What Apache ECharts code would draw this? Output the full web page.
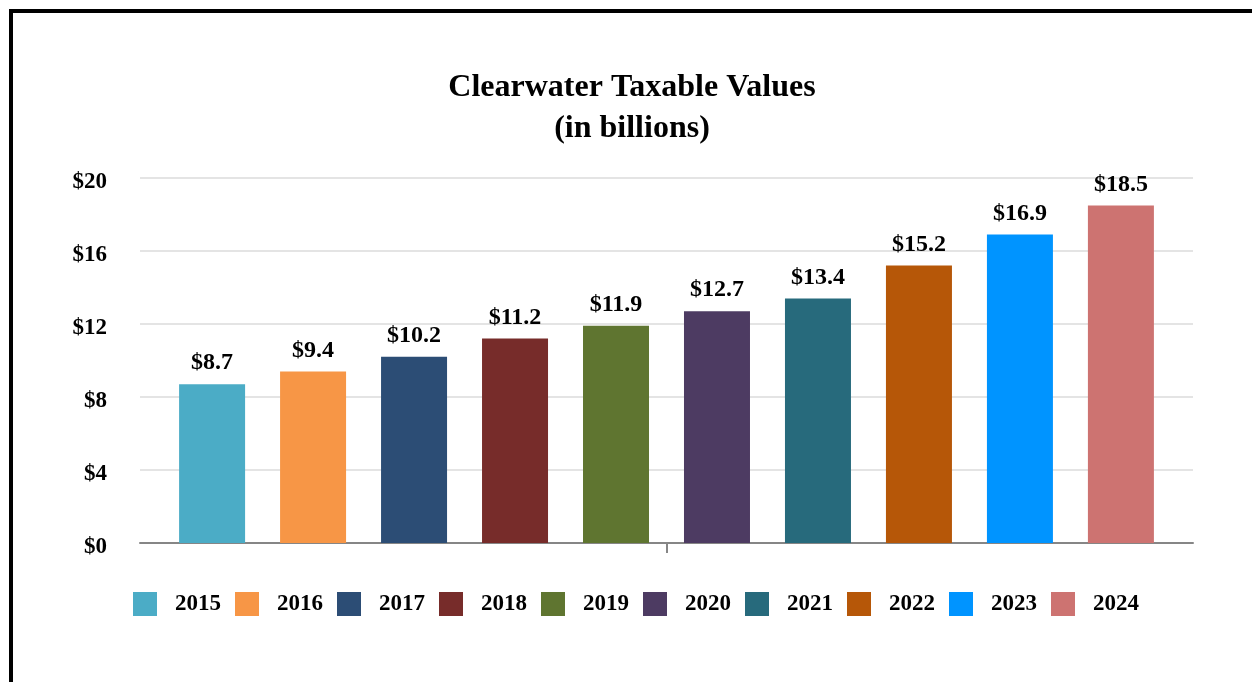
<!DOCTYPE html>
<html>
<head>
<meta charset="utf-8">
<title>Clearwater Taxable Values</title>
<script src="https://cdn.jsdelivr.net/npm/echarts@6/dist/echarts.min.js"></script>
<style>
  html, body { margin: 0; padding: 0; background: #ffffff; }
  #frame {
    position: absolute; left: 9px; top: 9px; right: 0; bottom: 0;
    border-top: 4px solid #000; border-left: 4px solid #000;
    box-sizing: border-box;
  }
  #chart { position: absolute; left: 0; top: 0; width: 1252px; height: 682px; }
</style>
</head>
<body>
<div id="frame"></div>
<div id="chart"></div>
<script>
// Fiscal years shown in the legend, one bar per year
const years = ['2015', '2016', '2017', '2018', '2019', '2020', '2021', '2022', '2023', '2024'];
// Taxable values in billions of dollars
const taxableValues = [8.7, 9.4, 10.2, 11.2, 11.9, 12.7, 13.4, 15.2, 16.9, 18.5];
// One fill per year
const barColors = ['#4bacc6', '#f79646', '#2c4d75', '#772c2a', '#5f7530', '#4d3b62', '#276a7c', '#b65708', '#0094ff', '#cd7371'];
// Value axis ticks
const yTicks = [0, 4, 8, 12, 16, 20];

const serif = '"Liberation Serif", "Times New Roman", serif';

const chart = echarts.init(document.getElementById('chart'), null, { renderer: 'canvas' });

const series = years.map((y, i) => ({
  name: y,
  type: 'bar',
  data: [taxableValues[i]],
  barWidth: 66,
  barGap: '53%',
  itemStyle: { color: barColors[i] },
  label: {
    show: true,
    position: 'top',
    distance: 9,
    formatter: p => '$' + p.value.toFixed(1),
    fontFamily: serif,
    fontWeight: 'bold',
    fontSize: 24,
    color: '#000'
  }
}));

chart.setOption({
  animation: false,
  backgroundColor: 'transparent',
  title: {
    text: 'Clearwater Taxable Values\n(in billions)',
    left: 632,
    textAlign: 'center',
    top: 67,
    padding: 0,
    textStyle: {
      fontFamily: serif,
      fontWeight: 'bold',
      fontSize: 32,
      lineHeight: 41,
      color: '#000'
    }
  },
  legend: {
    data: years,
    left: 133,
    top: 592,
    padding: 0,
    itemWidth: 24,
    itemHeight: 24,
    itemGap: 14,
    icon: 'rect',
    textStyle: {
      fontFamily: serif,
      fontWeight: 'bold',
      fontSize: 23,
      color: '#000',
      padding: [0, 0, 0, 13]
    }
  },
  grid: { left: 140, right: 59, top: 178, bottom: 139, containLabel: false },
  xAxis: {
    type: 'category',
    data: ['Taxable Value'],
    axisLine: { show: true, lineStyle: { color: '#868686', width: 2 } },
    axisTick: { show: true, alignWithLabel: true, length: 10, lineStyle: { color: '#868686', width: 2 } },
    axisLabel: { show: false }
  },
  yAxis: {
    type: 'value',
    min: yTicks[0],
    max: yTicks[yTicks.length - 1],
    interval: yTicks[1] - yTicks[0],
    axisLine: { show: false },
    axisTick: { show: false },
    splitLine: { lineStyle: { color: '#e4e4e4', width: 2 } },
    axisLabel: {
      margin: 33,
      formatter: v => '{t|$' + v + '}',
      rich: {
        t: {
          fontFamily: serif,
          fontWeight: 'bold',
          fontSize: 23,
          color: '#000',
          padding: [8, 0, 0, 0]
        }
      }
    }
  },
  series: series
});
</script>
</body>
</html>
